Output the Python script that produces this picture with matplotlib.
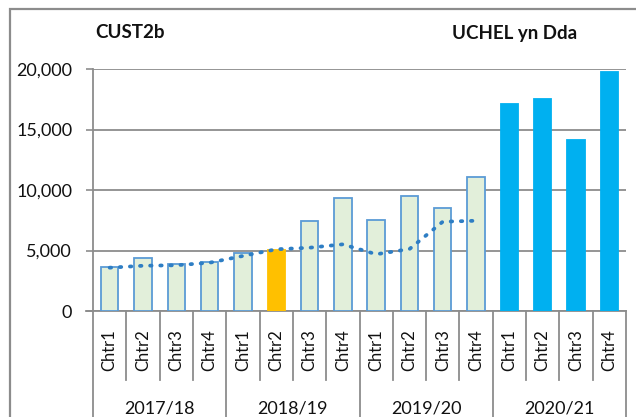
import matplotlib
matplotlib.use("Agg")
import matplotlib.pyplot as plt
from matplotlib.patches import Rectangle
from matplotlib.lines import Line2D

plt.rcParams['font.family'] = ['Lato', 'DejaVu Sans']

years = ["2017/18", "2018/19", "2019/20", "2020/21"]
quarters = ["Chtr1", "Chtr2", "Chtr3", "Chtr4"]
values = [3650, 4400, 3850, 4020,
          4770, 5040, 7400, 9340,
          7550, 9500, 8490, 11070,
          17080, 17500, 14100, 19780]
trend = [3580, 3740, 3780, 3990, 4550, 5100, 5230, 5510, 4690, 5120, 7380, 7460]
yticks = [0, 5000, 10000, 15000, 20000]
ytick_labels = ["0", "5,000", "10,000", "15,000", "20,000"]

light_fill = "#E2EFDA"
edge_blue = "#5B9BD5"
orange = "#FFC000"
solid_blue = "#00B0F0"
grey = "#8C8C8C"
line_blue = "#2E7EC4"
text_col = "#111111"

W, H = 636, 417
fig = plt.figure(figsize=(W / 100, H / 100), dpi=100)
left, right, top, bottom = 93, 626, 69, 311
ax = fig.add_axes([left / W, 1 - bottom / H, (right - left) / W, (bottom - top) / H])

n = len(values)
xs = list(range(n))
fills, edges = [], []
for i in range(n):
    if i >= 12:
        fills.append(solid_blue); edges.append(solid_blue)
    elif i == 5:
        fills.append(orange); edges.append(orange)
    else:
        fills.append(light_fill); edges.append(edge_blue)
ax.bar(xs, values, width=0.52, color=fills, edgecolor=edges, linewidth=1.3, zorder=3)

ax.plot(range(len(trend)), trend, color=line_blue, lw=2.7,
        linestyle=(0, (0.4, 2.3)), dash_capstyle='round', zorder=4)

ax.set_xlim(-0.5, n - 0.5)
ax.set_ylim(0, 20000)
ax.set_yticks(yticks)
ax.set_yticklabels(ytick_labels, fontsize=13, color=text_col)
ax.tick_params(axis='y', length=5, width=1.2, color=grey, pad=10)
ax.yaxis.grid(True, color=grey, lw=1.3, zorder=0)
ax.set_axisbelow(True)
ax.set_xticks([])
for s in ['top', 'right']:
    ax.spines[s].set_visible(False)
for s in ['left', 'bottom']:
    ax.spines[s].set_color(grey)
    ax.spines[s].set_linewidth(1.3)

tr = ax.get_xaxis_transform()
px = (bottom - top)
ax.add_line(Line2D([-0.5 - 7 / 33.3, -0.5], [0, 0], transform=tr, color=grey, lw=1.3, clip_on=False))

for i in range(n):
    ax.text(i, -(39 / px), quarters[i % 4], transform=tr, rotation=90,
            ha='center', va='center', fontsize=12, color=text_col)
for b in range(n + 1):
    xb = b - 0.5
    y0 = -(120 / px) if b % 4 == 0 else -(69 / px)
    ax.add_line(Line2D([xb, xb], [0, y0], transform=tr, color=grey, lw=1.3, clip_on=False))
for k, yl in enumerate(years):
    ax.text(4 * k + 1.5, -(97 / px), yl, transform=tr, ha='center', va='center',
            fontsize=13, color=text_col)

fig.text(95 / W, 1 - 33 / H, "CUST2b", fontsize=13.5, fontweight='bold', ha='left', va='center', color=text_col)
fig.text(452 / W, 1 - 33 / H, "UCHEL yn Dda", fontsize=13.5, fontweight='bold', ha='left', va='center', color=text_col)

fig.patches.append(Rectangle((10 / W, -0.2), 1.2, 0.2 + 1 - 9 / H, transform=fig.transFigure,
                             fill=False, edgecolor=grey, lw=1.6, clip_on=False))

fig.savefig("out.png", dpi=100)
